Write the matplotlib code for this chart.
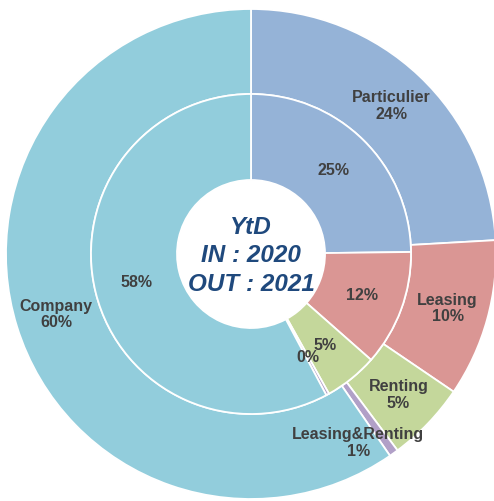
import numpy as np
import matplotlib
matplotlib.use("Agg")
import matplotlib.pyplot as plt

categories = ["Particulier", "Leasing", "Renting", "Leasing&Renting", "Company"]
outer_values = [24.1, 10.4, 5.3, 0.6, 59.6]   # 2021 (OUT)
inner_values = [24.8, 11.7, 5.4, 0.3, 57.8]   # 2020 (IN)
colors = ["#95B3D7", "#DA9694", "#C4D79B", "#B1A0C7", "#92CDDC"]
center_lines = ["YtD", "IN : 2020", "OUT : 2021"]

W, H = 494, 501
fig = plt.figure(figsize=(W / 100, H / 100), dpi=100)
ax = fig.add_axes([0, 0, 1, 1])

cx, cy = 251, H - 254
R_out, R_mid, R_hole = 245, 160, 74

wp = dict(edgecolor="white", linewidth=1.3)
ax.pie(outer_values, radius=R_out, center=(cx, cy), startangle=90,
       counterclock=False, colors=colors,
       wedgeprops=dict(width=R_out - R_mid, **wp), frame=True)
ax.pie(inner_values, radius=R_mid, center=(cx, cy), startangle=90,
       counterclock=False, colors=colors,
       wedgeprops=dict(width=R_mid - R_hole, **wp), frame=True)
ax.set_xlim(0, W)
ax.set_ylim(0, H)
ax.set_aspect("equal")
ax.axis("off")

txt_color = "#404040"
font = "Liberation Sans"


def mid_angles(vals):
    tot = sum(vals)
    cum = np.cumsum([0] + list(vals))
    return [90 - 360 * (cum[i] + vals[i] / 2) / tot for i in range(len(vals))]


# outer labels
out_ang = mid_angles(outer_values)
tot_o = sum(outer_values)
for i, (cat, v) in enumerate(zip(categories, outer_values)):
    a = out_ang[i]
    r = 204
    if cat == "Leasing&Renting":
        a -= 6
        r = 217
    x = cx + r * np.cos(np.radians(a))
    y = cy + r * np.sin(np.radians(a))
    ax.text(x, y, f"{cat}\n{100 * v / tot_o:.0f}%", ha="center", va="center",
            fontsize=11.5, fontweight="bold", color=txt_color, family=font,
            linespacing=1.15)

# inner labels
in_ang = mid_angles(inner_values)
tot_i = sum(inner_values)
for i, v in enumerate(inner_values):
    a = in_ang[i]
    r = 118
    x = cx + r * np.cos(np.radians(a))
    y = cy + r * np.sin(np.radians(a))
    ax.text(x, y, f"{100 * v / tot_i:.0f}%", ha="center", va="center",
            fontsize=11.5, fontweight="bold", color=txt_color, family=font)

ax.text(cx + 0, cy - 2, "\n".join(center_lines), ha="center", va="center",
        fontsize=17.5, fontstyle="italic", fontweight="bold", color="#1F497D",
        family=font, linespacing=1.28)

fig.savefig("out.png", dpi=100, facecolor="white")
